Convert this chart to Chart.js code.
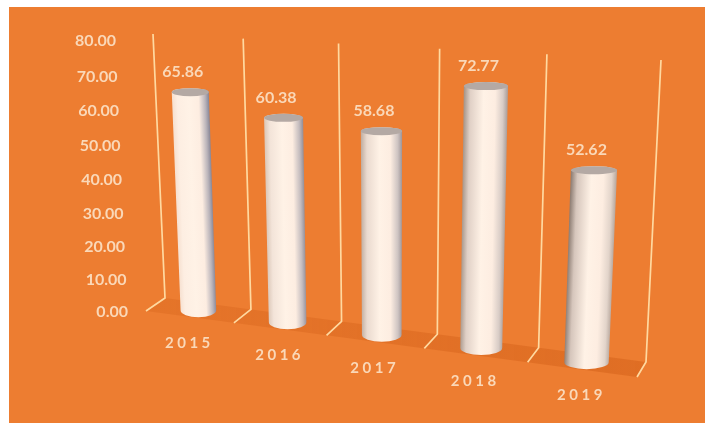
<!DOCTYPE html>
<html>
<head>
<meta charset="utf-8">
<title>Cylinder chart 2015-2019</title>
<script src="https://cdn.jsdelivr.net/npm/chart.js@4"></script>
<style>
  html, body { margin: 0; padding: 0; background: #fff; }
  #panel { position: absolute; left: 9px; top: 7px; width: 696px; height: 416px; background: #ED7D31; }
  #cylinders { position: absolute; left: 0; top: 0; }
</style>
</head>
<body>
<div id="panel"></div>
<canvas id="cylinders" width="705" height="424"></canvas>
<script>
var years = ['2015', '2016', '2017', '2018', '2019'];
var scores = [65.86, 60.38, 58.68, 72.77, 52.62];
var axisMax = 80;
var axisStep = 10;

// back wall of the tilted plot, screen corners
var wall = {
  bl: [165, 298], br: [646, 362],
  tr: [661, 60], tl: [153, 34]
};
// floor depth vector at the left and right ends of the wall
var depthLeft = [-19, 13];
var depthRight = [-9, 15];

var textColor = '#FAD8B8';
var lineColor = '#FFD9A0';

// unit square to wall quad
function makeHomography(q) {
  var x0 = q.bl[0], y0 = q.bl[1], x1 = q.br[0], y1 = q.br[1];
  var x2 = q.tr[0], y2 = q.tr[1], x3 = q.tl[0], y3 = q.tl[1];
  var dx1 = x1 - x2, dx2 = x3 - x2, sx = x0 - x1 + x2 - x3;
  var dy1 = y1 - y2, dy2 = y3 - y2, sy = y0 - y1 + y2 - y3;
  var den = dx1 * dy2 - dx2 * dy1;
  var g = (sx * dy2 - dx2 * sy) / den;
  var h = (dx1 * sy - sx * dy1) / den;
  var a = x1 - x0 + g * x1, b = x3 - x0 + h * x3;
  var d = y1 - y0 + g * y1, e = y3 - y0 + h * y3;
  return function(u, v) {
    var w = g * u + h * v + 1;
    return [(a * u + b * v + x0) / w, (d * u + e * v + y0) / w];
  };
}
var onWall = makeHomography(wall);

// u across the categories, v up the value axis, w from wall (0) to floor front (1)
function project(u, v, w) {
  var p = onWall(u, v);
  return [
    p[0] + w * (depthLeft[0] + (depthRight[0] - depthLeft[0]) * u),
    p[1] + w * (depthLeft[1] + (depthRight[1] - depthLeft[1]) * u)
  ];
}

function mix(a, b, t) {
  var c = a.map(function(n, i) { return Math.round(n + (b[i] - n) * t); });
  return 'rgb(' + c.join(',') + ')';
}

function drawFloor(ctx) {
  var a = project(0, 0, 0), b = project(1, 0, 0), c = project(1, 0, 1), d = project(0, 0, 1);
  var fill = ctx.createLinearGradient(a[0], 0, b[0], 0);
  fill.addColorStop(0, 'rgba(214,100,28,0.35)');
  fill.addColorStop(1, 'rgba(214,100,28,0.6)');
  ctx.fillStyle = fill;
  ctx.beginPath();
  ctx.moveTo(a[0], a[1]);
  ctx.lineTo(b[0], b[1]);
  ctx.lineTo(c[0], c[1]);
  ctx.lineTo(d[0], d[1]);
  ctx.closePath();
  ctx.fill();
}

function drawDividers(ctx, count) {
  ctx.strokeStyle = lineColor;
  ctx.lineWidth = 1.7;
  for (var i = 0; i <= count; i++) {
    var u = i / count;
    var top = project(u, 1, 0), foot = project(u, 0, 0), front = project(u, 0, 1);
    ctx.beginPath();
    ctx.moveTo(top[0], top[1]);
    ctx.lineTo(foot[0], foot[1]);
    ctx.lineTo(front[0], front[1]);
    ctx.stroke();
  }
}

function drawCylinder(ctx, u, halfU, v, k) {
  var cb = project(u, 0, 0.5), ct = project(u, v, 0.5);
  var rxB = Math.abs(project(u + halfU, 0, 0.5)[0] - project(u - halfU, 0, 0.5)[0]) / 2;
  var rxT = Math.abs(project(u + halfU, v, 0.5)[0] - project(u - halfU, v, 0.5)[0]) / 2;

  // ends stay level, only the axis leans
  ctx.save();
  ctx.beginPath();
  ctx.moveTo(ct[0] - rxT, ct[1]);
  ctx.lineTo(cb[0] - rxB, cb[1]);
  ctx.ellipse(cb[0], cb[1], rxB, 7, 0, Math.PI, 0, true);
  ctx.lineTo(ct[0] + rxT, ct[1]);
  ctx.ellipse(ct[0], ct[1], rxT, 4, 0, 0, Math.PI, true);
  ctx.closePath();
  ctx.clip();

  // shade across the round side, sheared along the cylinder axis
  var rx = (rxB + rxT) / 2;
  ctx.transform(2 * rx, 0, ct[0] - cb[0], ct[1] - cb[1], cb[0] - rx, cb[1]);
  var side = ctx.createLinearGradient(0, 0, 1, 0);
  side.addColorStop(0, mix([246, 224, 208], [142, 126, 116], k));
  side.addColorStop(0.14, mix([253, 238, 226], [214, 198, 188], k));
  side.addColorStop(0.45, '#FFF2E6');
  side.addColorStop(0.72, '#FDEDE1');
  side.addColorStop(0.9, mix([186, 180, 186], [226, 212, 202], k));
  side.addColorStop(1, mix([138, 136, 152], [186, 170, 160], k));
  ctx.fillStyle = side;
  ctx.fillRect(-0.2, -0.2, 1.4, 1.4);
  ctx.restore();

  ctx.fillStyle = '#B4A9A4';
  ctx.beginPath();
  ctx.ellipse(ct[0], ct[1], rxT, 4, 0, 0, Math.PI * 2);
  ctx.fill();
}

var tiltedPlot = {
  id: 'tiltedPlot',
  beforeDatasetDraw: function(chart, args) {
    var ctx = chart.ctx, area = chart.chartArea;
    var x = chart.scales.x, y = chart.scales.y;
    var meta = args.meta;
    var toU = function(px) { return (px - area.left) / area.width; };
    var toV = function(py) { return (area.bottom - py) / area.height; };

    drawFloor(ctx);
    drawDividers(ctx, years.length);

    meta.data.forEach(function(bar, i) {
      drawCylinder(ctx, toU(bar.x), bar.width / area.width / 2, toV(bar.y), i / (meta.data.length - 1));
    });

    ctx.fillStyle = textColor;
    ctx.textBaseline = 'middle';

    // value axis labels run down the front left edge
    ctx.font = 'bold 16px Lato';
    ctx.textAlign = 'right';
    y.ticks.forEach(function(t, i) {
      var v = toV(y.getPixelForTick(i));
      var p = project(0, v, 1);
      ctx.fillText(t.label, p[0] - 18, p[1] + 1 - 7 * v);
    });

    // values float over the cylinder tops
    ctx.textAlign = 'center';
    meta.data.forEach(function(bar, i) {
      var p = project(toU(bar.x), toV(bar.y), 0.5);
      ctx.fillText(scores[i].toFixed(2), p[0] - 7.5, p[1] - 20);
    });

    // category labels sit in front of the floor
    ctx.font = 'bold 15px Lato';
    ctx.letterSpacing = '3.5px';
    meta.data.forEach(function(bar, i) {
      var p = project(toU(bar.x), 0, 1);
      ctx.fillText(x.getLabelForValue(i), p[0], p[1] + 26);
    });
    ctx.letterSpacing = '0px';

    return false;
  }
};

new Chart(document.getElementById('cylinders').getContext('2d'), {
  type: 'bar',
  data: {
    labels: years,
    datasets: [{ data: scores, barPercentage: 0.41, categoryPercentage: 1 }]
  },
  options: {
    responsive: false,
    animation: false,
    layout: { padding: { left: 60, right: 60, top: 40, bottom: 60 } },
    plugins: { legend: { display: false }, tooltip: { enabled: false } },
    scales: {
      x: { grid: { display: false }, border: { display: false }, ticks: { display: false } },
      y: {
        min: 0,
        max: axisMax,
        grid: { display: false },
        border: { display: false },
        ticks: {
          display: false,
          stepSize: axisStep,
          callback: function(value) { return value.toFixed(2); }
        }
      }
    }
  },
  plugins: [tiltedPlot]
});
</script>
</body>
</html>
